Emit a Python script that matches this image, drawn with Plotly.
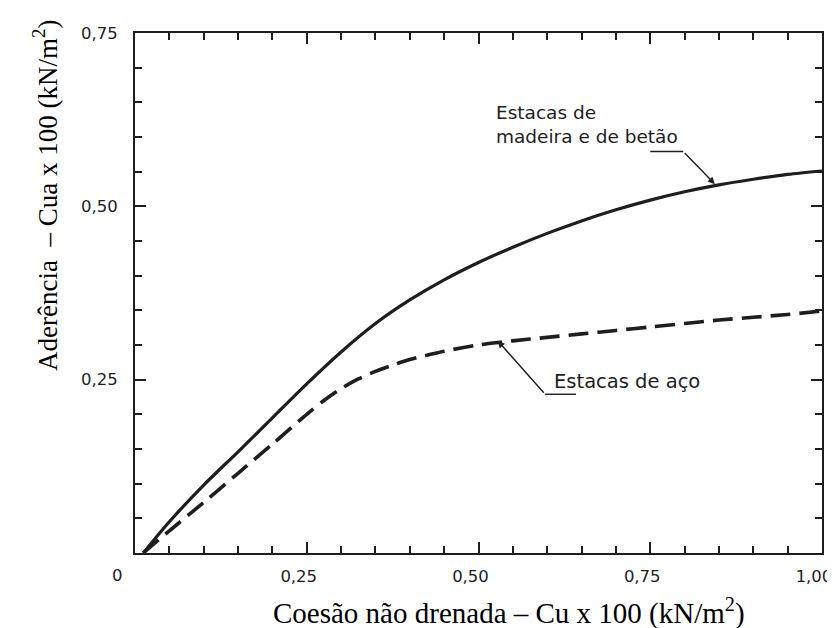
import plotly.graph_objects as go

# Data
cu_wood = [0.012, 0.05, 0.10, 0.15, 0.20, 0.25, 0.30, 0.35, 0.40, 0.45, 0.50,
           0.55, 0.60, 0.65, 0.70, 0.75, 0.80, 0.85, 0.90, 0.95, 1.00]
cua_wood = [0.0, 0.045, 0.098, 0.146, 0.195, 0.244, 0.290, 0.331, 0.365, 0.394, 0.419,
            0.441, 0.461, 0.479, 0.495, 0.509, 0.521, 0.531, 0.539, 0.546, 0.551]

cu_steel = [0.012, 0.05, 0.10, 0.15, 0.20, 0.25, 0.275, 0.30, 0.325, 0.35, 0.375, 0.40,
            0.45, 0.50, 0.55, 0.60, 0.65, 0.70, 0.75, 0.80, 0.85, 0.90, 0.95, 1.00]
cua_steel = [0.0, 0.032, 0.073, 0.115, 0.157, 0.200, 0.220, 0.237, 0.251, 0.262, 0.271, 0.279,
             0.291, 0.300, 0.306, 0.311, 0.316, 0.321, 0.326, 0.331, 0.336, 0.340, 0.344, 0.349]

x_tickvals = [0.25, 0.50, 0.75, 1.00]
x_ticktext = ["0,25", "0,50", "0,75", "1,00"]
y_tickvals = [0.25, 0.50, 0.75]
y_ticktext = ["0,25", "0,50", "0,75"]

label_wood = "Estacas de<br>madeira e de betão"
label_steel = "Estacas de aço"
x_title = "Coesão não drenada – Cu x 100 (kN/m<sup>2</sup>)"
y_title = "Aderência  – Cua x 100 (kN/m<sup>2</sup>)"

INK = "#1e1e1e"
TICKFONT = dict(family="DejaVu Sans", size=16.5, color=INK)
WOODFONT = dict(family="DejaVu Sans", size=18.5, color=INK)
STEELFONT = dict(family="DejaVu Sans", size=19.5, color=INK)
XTITLEFONT = dict(family="Liberation Serif", size=29, color="#000")
YTITLEFONT = dict(family="Liberation Serif", size=27, color="#000")

fig = go.Figure()
fig.add_trace(go.Scatter(x=cu_wood, y=cua_wood, mode="lines",
                         line=dict(color=INK, width=3.2, shape="spline", smoothing=0.8),
                         showlegend=False, hoverinfo="skip"))
fig.add_trace(go.Scatter(x=cu_steel, y=cua_steel, mode="lines",
                         line=dict(color=INK, width=3.6, dash="20px,9px", shape="spline", smoothing=0.8),
                         showlegend=False, hoverinfo="skip"))

axis_common = dict(showline=True, linecolor=INK, linewidth=2, mirror="allticks",
                   ticks="inside", ticklen=11, tickwidth=1.8, tickcolor=INK,
                   showgrid=False, zeroline=False, tickfont=TICKFONT)
minor_common = dict(dtick=0.05, tick0=0, ticks="inside", ticklen=7, tickwidth=1.5,
                    tickcolor=INK, showgrid=False)

fig.update_xaxes(range=[0, 1.0], tickvals=x_tickvals, ticktext=x_ticktext,
                 minor=minor_common, ticklabelstandoff=7, ticklabelshift=-8, **axis_common)
fig.update_yaxes(range=[0, 0.75], tickvals=y_tickvals, ticktext=y_ticktext,
                 minor=minor_common, ticklabelstandoff=12, **axis_common)

annotations = [
    dict(x=0, y=0, xref="x", yref="y", text="0", showarrow=False,
         xanchor="center", yanchor="top", xshift=-18, yshift=-11, font=TICKFONT),
    dict(x=0.523, y=0.618, xref="x", yref="y", text=label_wood, showarrow=False,
         xanchor="left", yanchor="middle", align="left", font=WOODFONT),
    dict(x=0.844, y=0.532, ax=0.798, ay=0.579, xref="x", yref="y", axref="x", ayref="y",
         text="", showarrow=True, arrowhead=2, arrowsize=1, arrowwidth=1.4, arrowcolor=INK),
    dict(x=0.607, y=0.248, xref="x", yref="y", text=label_steel, showarrow=False,
         xanchor="left", yanchor="middle", font=STEELFONT),
    dict(x=0.528, y=0.306, ax=0.597, ay=0.229, xref="x", yref="y", axref="x", ayref="y",
         text="", showarrow=True, arrowhead=2, arrowsize=1, arrowwidth=1.4, arrowcolor=INK),
    dict(x=0.545, y=-0.113, xref="paper", yref="paper", text=x_title, showarrow=False,
         xanchor="center", yanchor="middle", font=XTITLEFONT),
    dict(x=-0.13, y=0.688, xref="paper", yref="paper", text=y_title, showarrow=False,
         textangle=-90, xanchor="center", yanchor="middle", font=YTITLEFONT),
]

shapes = [
    dict(type="line", xref="x", yref="y", x0=0.75, y0=0.579, x1=0.798, y1=0.579,
         line=dict(color=INK, width=1.4)),
    dict(type="line", xref="x", yref="y", x0=0.597, y0=0.229, x1=0.642, y1=0.229,
         line=dict(color=INK, width=1.4)),
]

fig.update_layout(width=835, height=628, margin=dict(l=127, r=21, t=25, b=83),
                  paper_bgcolor="white", plot_bgcolor="white",
                  annotations=annotations, shapes=shapes, showlegend=False)

fig.write_html("out.html")
